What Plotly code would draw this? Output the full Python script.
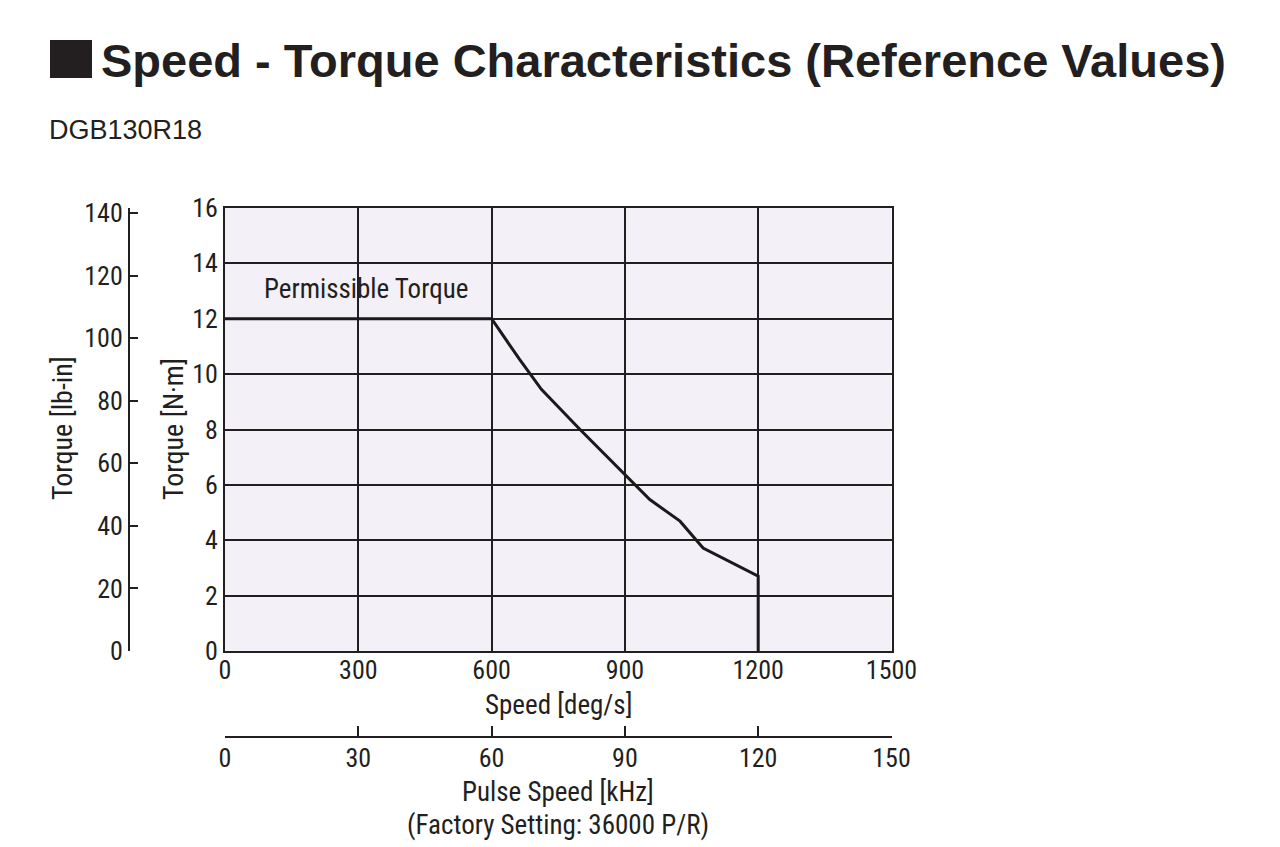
import plotly.graph_objects as go

# Data
speed_deg_s = [0, 600, 663, 712, 799, 904, 956, 1024, 1076, 1200, 1200]
torque_nm = [12, 12, 10.53, 9.45, 8.0, 6.31, 5.47, 4.69, 3.72, 2.70, 0]

x_ticks = [0, 300, 600, 900, 1200, 1500]
nm_ticks = [0, 2, 4, 6, 8, 10, 12, 14, 16]
lbin_ticks = [0, 20, 40, 60, 80, 100, 120, 140]
pulse_ticks = [0, 30, 60, 90, 120, 150]
NM_TO_LBIN = 8.8507

W, H = 1280, 847
def px(x): return x / W
def py(y): return 1 - y / H

FONT = "Liberation Sans Narrow, Arial Narrow, Roboto Condensed, Liberation Sans, Arial, sans-serif"
TXT = "#231f20"
GRID = "#231f20"
FS = 27
TFS = 26

fig = go.Figure()
fig.add_trace(go.Scatter(x=speed_deg_s, y=torque_nm, mode="lines",
                         line=dict(color="#1a1a1a", width=3), showlegend=False,
                         xaxis="x", yaxis="y"))
fig.add_trace(go.Scatter(x=[0], y=[0], mode="markers", marker=dict(opacity=0),
                         showlegend=False, xaxis="x", yaxis="y2", hoverinfo="skip"))
fig.add_trace(go.Scatter(x=[0], y=[0], mode="markers", marker=dict(opacity=0),
                         showlegend=False, xaxis="x2", yaxis="y", hoverinfo="skip"))

x0, x1 = px(225), px(891.5)
y0, y1 = py(651), py(208)

fig.update_layout(
    width=W, height=H,
    margin=dict(l=0, r=0, t=0, b=0, autoexpand=False),
    paper_bgcolor="white",
    plot_bgcolor="#f3f0f7",
    font=dict(family=FONT, color=TXT, size=FS),
    xaxis=dict(domain=[x0, x1], range=[0, 1500], tickvals=x_ticks,
               showgrid=True, gridcolor=GRID, gridwidth=2, automargin=False,
               showline=True, linecolor=GRID, linewidth=2, mirror=True,
               ticks="", zeroline=False, anchor="y", ticklabelstandoff=-5,
               tickfont=dict(size=TFS, family=FONT, color=TXT)),
    yaxis=dict(domain=[y0, y1], range=[0, 16], tickvals=nm_ticks,
               showgrid=True, gridcolor=GRID, gridwidth=2, automargin=False,
               showline=True, linecolor=GRID, linewidth=2, mirror=True,
               ticks="", zeroline=False, anchor="x",
               tickfont=dict(size=TFS, family=FONT, color=TXT)),
    yaxis2=dict(overlaying="y", anchor="free", position=px(129), side="left",
                range=[0, 16 * NM_TO_LBIN], tickvals=lbin_ticks,
                showgrid=False, zeroline=False, automargin=False,
                showline=True, linecolor=GRID, linewidth=2,
                ticks="inside", ticklen=8, tickwidth=2, tickcolor=GRID,
                tickfont=dict(size=TFS, family=FONT, color=TXT)),
    xaxis2=dict(overlaying="x", anchor="free", position=py(737), side="bottom",
                range=[0, 150], tickvals=pulse_ticks,
                showgrid=False, zeroline=False, automargin=False,
                showline=True, linecolor=GRID, linewidth=2, ticklabelstandoff=-2,
                ticks="inside", ticklen=10, tickwidth=2, tickcolor=GRID,
                tickfont=dict(size=TFS, family=FONT, color=TXT)),
)

# Title square
fig.add_shape(type="rect", xref="paper", yref="paper",
              x0=px(50), x1=px(92), y0=py(78), y1=py(40),
              fillcolor="#231f20", line=dict(width=0))

ann = []
ann.append(dict(text="<b>Speed - Torque Characteristics (Reference Values)</b>",
                x=px(99), y=py(60), xanchor="left", yanchor="middle",
                font=dict(family="Liberation Sans, Arial, sans-serif", size=47, color=TXT)))
ann.append(dict(text="DGB130R18", x=px(47), y=py(130), xanchor="left", yanchor="middle",
                font=dict(family="Liberation Sans, Arial, sans-serif", size=27, color=TXT)))
ann.append(dict(text="Permissible Torque", x=px(366), y=py(289), xanchor="center", yanchor="middle",
                font=dict(size=FS)))
ann.append(dict(text="Speed [deg/s]", x=px(558), y=py(705), xanchor="center", yanchor="middle",
                font=dict(size=FS)))
ann.append(dict(text="Pulse Speed [kHz]", x=px(558), y=py(792), xanchor="center", yanchor="middle",
                font=dict(size=FS)))
ann.append(dict(text="(Factory Setting: 36000 P/R)", x=px(558), y=py(825), xanchor="center", yanchor="middle",
                font=dict(size=FS)))
ann.append(dict(text="Torque [lb-in]", x=px(62), y=py(428), xanchor="center", yanchor="middle",
                textangle=-90, font=dict(size=FS + 1)))
ann.append(dict(text="Torque [N·m]", x=px(174), y=py(429), xanchor="center", yanchor="middle",
                textangle=-90, font=dict(size=FS + 1)))
for a in ann:
    a.update(xref="paper", yref="paper", showarrow=False)
fig.update_layout(annotations=ann)

fig.write_html("out.html")
